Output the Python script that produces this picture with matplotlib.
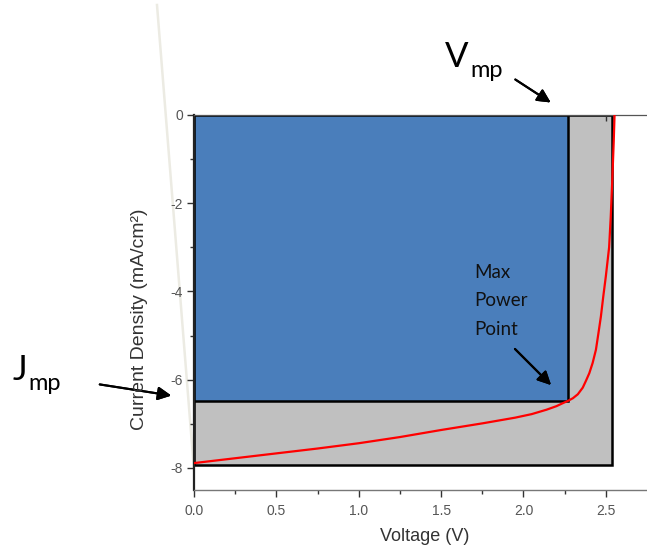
import matplotlib
matplotlib.use("Agg")
import matplotlib.pyplot as plt
from matplotlib.lines import Line2D
from matplotlib.patches import Rectangle

# J-V curve
voltage = [0.0, 0.25, 0.5, 0.75, 1.0, 1.25, 1.5, 1.75, 1.95, 2.05, 2.14, 2.20,
           2.24, 2.27, 2.30, 2.33, 2.36, 2.38, 2.40, 2.42, 2.44, 2.455, 2.47,
           2.485, 2.50, 2.52, 2.53, 2.54, 2.548, 2.553]
current = [-7.89, -7.78, -7.67, -7.56, -7.44, -7.30, -7.14, -6.99, -6.86, -6.78,
           -6.68, -6.60, -6.53, -6.48, -6.42, -6.33, -6.18, -6.02, -5.85, -5.62,
           -5.32, -4.95, -4.57, -4.10, -3.66, -3.00, -2.30, -1.40, -0.60, 0.0]

v_oc = 2.535
j_sc = -7.93
v_mp = 2.27
j_mp = -6.48

x_ticks = [0.0, 0.5, 1.0, 1.5, 2.0, 2.5]
y_ticks = [-8, -6, -4, -2, 0]

fig = plt.figure(figsize=(6.47, 5.5), dpi=100)
ax = fig.add_axes([194 / 647, 1 - 490 / 550, 1 - 194 / 647, 375 / 550])

# gray = Voc*Jsc box, blue = Vmp*Jmp box
ax.add_patch(Rectangle((0, j_sc), v_oc, -j_sc, facecolor="#c0c0c0",
                       edgecolor="black", linewidth=1.8, zorder=1))
ax.add_patch(Rectangle((0, j_mp), v_mp, -j_mp, facecolor="#4a7ebb",
                       edgecolor="black", linewidth=1.8, zorder=2))
ax.plot(voltage, current, color="#ff0000", linewidth=1.6, zorder=3)

ax.set_xlim(0, 2.75)
ax.set_ylim(-8.5, 0)
ax.set_xticks(x_ticks)
ax.set_xticklabels([f"{t:.1f}" for t in x_ticks], family="Liberation Sans")
ax.set_yticks(y_ticks)
ax.set_yticklabels([str(t) for t in y_ticks], family="Liberation Sans")
ax.set_xticks([0.25, 0.75, 1.25, 1.75, 2.25], minor=True)
ax.set_yticks([-7, -5, -3, -1], minor=True)

ax.spines["right"].set_visible(False)
ax.spines["top"].set_color("#555555")
ax.spines["top"].set_linewidth(0.9)
ax.spines["bottom"].set_color("#777777")
ax.spines["bottom"].set_linewidth(1.0)
ax.spines["left"].set_color("#222222")
ax.spines["left"].set_linewidth(1.6)

ax.tick_params(axis="both", which="both", direction="out", colors="#333333",
               labelcolor="#555555", labelsize=10, width=1)
ax.tick_params(which="major", length=5)
ax.tick_params(which="minor", length=3)
ax.tick_params(axis="x", top=True, which="both")
ax.tick_params(axis="x", pad=5)
ax.tick_params(axis="y", pad=3)
for t in ax.xaxis.get_major_ticks() + ax.xaxis.get_minor_ticks():
    t.tick2line.set_marker(3)  # top ticks point into the plot
    t.tick2line.set_markersize(4)

fig.text(425 / 647, 1 - 541 / 550, "Voltage (V)", ha="center", va="baseline",
         fontsize=13, color="#333333", family="Liberation Sans")
fig.text(140 / 647, 1 - 319 / 550, "Current Density (mA/cm²)", ha="center",
         va="center", rotation=90, fontsize=14, color="#333333",
         family="Liberation Sans")

# faint stray line on the left, kept behind everything
fig.add_artist(Line2D([157 / 647, 194 / 647], [1 - 5 / 550, 1 - 470 / 550],
                      color="#ecebe3", linewidth=1.8, transform=fig.transFigure,
                      zorder=-1))

font = "Lato"
fig.text(445 / 647, 1 - 67 / 550, "V", fontsize=25, family=font, color="black")
fig.text(470 / 647, 1 - 77 / 550, "mp", fontsize=17, family=font, color="black")
fig.text(13 / 647, 1 - 380 / 550, "J", fontsize=25, family=font, color="black")
fig.text(28 / 647, 1 - 390 / 550, "mp", fontsize=17, family=font, color="black")
for line, base in [("Max", 278), ("Power", 306.5), ("Point", 335)]:
    fig.text(474 / 647, 1 - base / 550, line, fontsize=13.5, family=font,
             color="#111111")

arrow = dict(arrowstyle="-|>,head_length=0.8,head_width=0.4", color="black", lw=1.5)
for start, end in [((513, 78), (553, 104)), ((513, 347), (553, 387)),
                   ((97, 384), (174, 396))]:
    fig.add_artist(plt.annotate("", xy=(end[0] / 647, 1 - end[1] / 550),
                                xytext=(start[0] / 647, 1 - start[1] / 550),
                                xycoords="figure fraction",
                                textcoords="figure fraction", arrowprops=arrow))

fig.savefig("out.png", dpi=100)
